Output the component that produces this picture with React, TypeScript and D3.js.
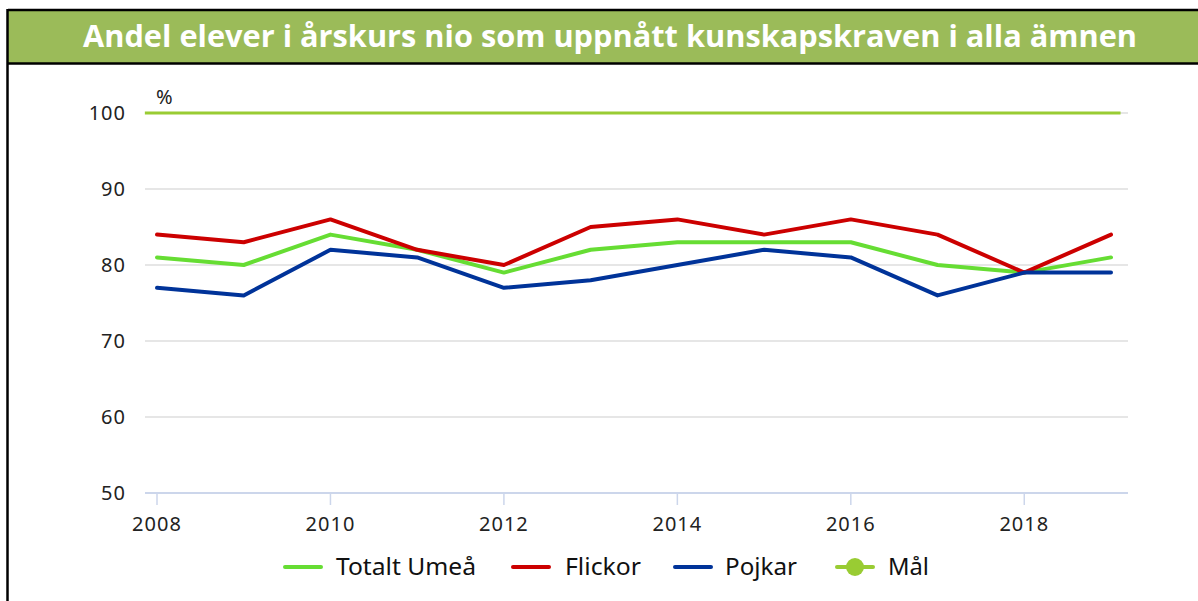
import React from "react";
import * as d3 from "d3";

const years = [2008, 2009, 2010, 2011, 2012, 2013, 2014, 2015, 2016, 2017, 2018, 2019];
const totalt = [81, 80, 84, 82, 79, 82, 83, 83, 83, 80, 79, 81];
const flickor = [84, 83, 86, 82, 80, 85, 86, 84, 86, 84, 79, 84];
const pojkar = [77, 76, 82, 81, 77, 78, 80, 82, 81, 76, 79, 79];
const malValue = 100;
const yTicks = [50, 60, 70, 80, 90, 100];
const xTicks = [2008, 2010, 2012, 2014, 2016, 2018];
const title = "Andel elever i årskurs nio som uppnått kunskapskraven i alla ämnen";

const series = [
  { name: "Totalt Umeå", values: totalt, color: "#66dd33" },
  { name: "Flickor", values: flickor, color: "#cc0000" },
  { name: "Pojkar", values: pojkar, color: "#003399" },
];

export default function App() {
  const x = d3.scaleLinear().domain([2008, 2019]).range([157, 1111]);
  const y = d3.scaleLinear().domain([50, 100]).range([493, 113]);
  const gridX0 = 145;
  const gridX1 = 1128;
  const font = "'Noto Sans', sans-serif";

  const line = d3
    .line<number>()
    .x((_, i) => x(years[i]))
    .y((d) => y(d));

  const malLine = d3
    .line<number>()
    .x((d) => x(d))
    .y(() => y(malValue));

  const legend = [
    { name: "Totalt Umeå", color: "#66dd33", x: 285, tx: 336, tw: 140 },
    { name: "Flickor", color: "#cc0000", x: 513, tx: 565, tw: 76 },
    { name: "Pojkar", color: "#003399", x: 675, tx: 725, tw: 72 },
    { name: "Mål", color: "#99cc33", x: 837, tx: 888, tw: 41, marker: true },
  ];

  return (
    <svg
      width={1198}
      height={601}
      style={{ position: "absolute", left: 0, top: 0, background: "#fff" }}
    >
      {/* Title bar */}
      <rect x={8} y={10} width={1190} height={53} fill="#9bbb59" />
      <line x1={8} x2={1198} y1={10} y2={10} stroke="#000" strokeWidth={2.5} />
      <line x1={8} x2={1198} y1={63.5} y2={63.5} stroke="#000" strokeWidth={2.5} />
      <line x1={7.5} x2={7.5} y1={9} y2={601} stroke="#000" strokeWidth={2.5} />
      <text
        x={610}
        y={47}
        textAnchor="middle"
        fill="#fff"
        fontFamily="'Open Sans', sans-serif"
        fontWeight="bold"
        fontSize={31}
        textLength={1054}
        lengthAdjust="spacingAndGlyphs"
      >
        {title}
      </text>

      {/* Grid */}
      {yTicks.map((t) => (
        <line
          key={t}
          x1={gridX0}
          x2={gridX1}
          y1={y(t)}
          y2={y(t)}
          stroke={t === 50 ? "#ccd6eb" : "#e6e6e6"}
          strokeWidth={2}
        />
      ))}
      {xTicks.map((t) => (
        <line key={t} x1={x(t)} x2={x(t)} y1={y(50)} y2={y(50) + 12} stroke="#ccd6eb" strokeWidth={1.5} />
      ))}

      {/* Y labels */}
      {yTicks.map((t) => (
        <text
          key={t}
          x={126}
          y={y(t) + 7}
          textAnchor="end"
          fontFamily={font}
          fontSize={20}
          letterSpacing={1}
          fill="#222"
        >
          {t}
        </text>
      ))}
      <text x={156} y={104} fontFamily={font} fontSize={20} fill="#222">
        %
      </text>

      {/* X labels */}
      {xTicks.map((t) => (
        <text
          key={t}
          x={x(t)}
          y={531}
          textAnchor="middle"
          fontFamily={font}
          fontSize={20}
          letterSpacing={1}
          fill="#222"
        >
          {t}
        </text>
      ))}

      {/* Mål */}
      <path
        d={malLine([2007.86, 2019.11]) || ""}
        fill="none"
        stroke="#99cc33"
        strokeWidth={3}
      />

      {/* Series */}
      {series.map((s) => (
        <path
          key={s.name}
          d={line(s.values) || ""}
          fill="none"
          stroke={s.color}
          strokeWidth={4}
          strokeLinejoin="round"
          strokeLinecap="round"
        />
      ))}

      {/* Legend */}
      {legend.map((l) => (
        <g key={l.name}>
          <line
            x1={l.x}
            x2={l.x + 36}
            y1={567}
            y2={567}
            stroke={l.color}
            strokeWidth={4}
            strokeLinecap="round"
          />
          {l.marker && <circle cx={l.x + 18} cy={567} r={9} fill={l.color} />}
          <text
            x={l.tx}
            y={575}
            fontFamily={font}
            fontSize={23}
            fill="#111"
            textLength={l.tw}
            lengthAdjust="spacingAndGlyphs"
          >
            {l.name}
          </text>
        </g>
      ))}
    </svg>
  );
}
